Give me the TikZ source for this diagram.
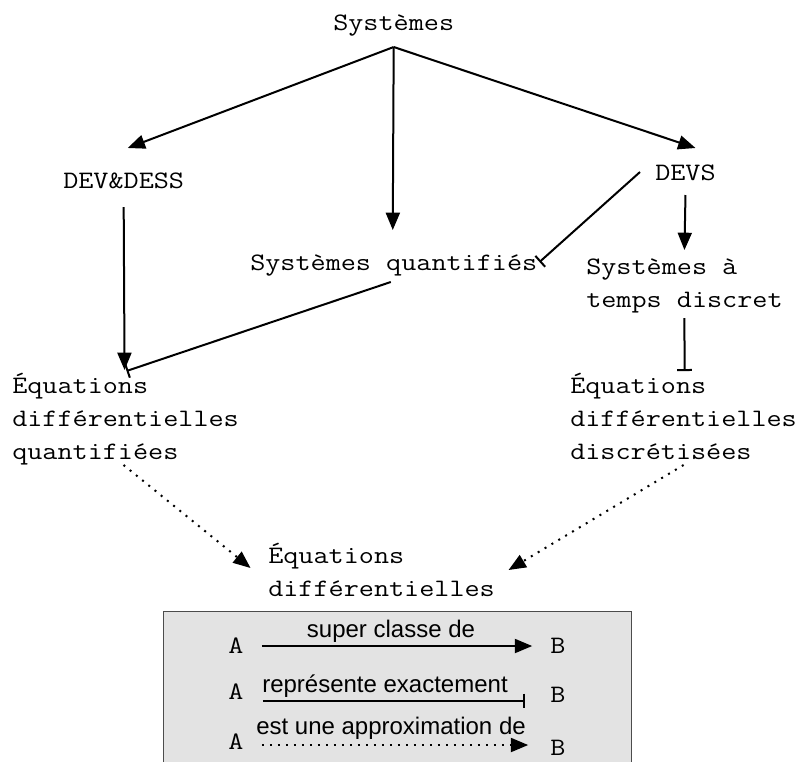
\documentclass[tikz,border=0pt]{standalone}
\usepackage{fontspec}
\newfontfamily\legfont{Liberation Sans}
\newfontfamily\lmmono{Latin Modern Mono}[FakeStretch=1.17]
\usetikzlibrary{arrows.meta,calc}
\newcommand{\monofnt}{\lmmono\fontsize{18.8}{24.4}\selectfont}
\begin{document}
\begin{tikzpicture}[x=0.75pt,y=-0.75pt,
  lbl/.style={inner sep=0pt, font=\monofnt, align=left, anchor=base west},
  conn/.style={line width=1.5pt},
  supc/.style={conn, -{Triangle[length=13pt,width=10.5pt]}},
  exact/.style={conn, -{Bar[width=11pt]}},
  approx/.style={conn, dash pattern=on 1.5pt off 4.5pt, -{Triangle[length=13pt,width=10.5pt]}},
  leg/.style={inner sep=0pt, font=\legfont\fontsize{18}{20}\selectfont},
  ab/.style={inner sep=0pt, font=\monofnt}]
\useasboundingbox (0,0) rectangle (798,761);

% nodes (base = baseline of last line)
\node[lbl] (sys) at (333,30) {Systèmes};
\node[lbl] (dd) at (63,188) {DEV\&DESS};
\node[lbl] (devs) at (655,180) {DEVS};
\node[lbl] (sq) at (250,270) {Systèmes quantifiés};
\node[lbl] (std) at (586,307) {Systèmes à\\temps discret};
\node[lbl] (edq) at (12,459) {Équations\\différentielles\\quantifiées};
\node[lbl] (edd) at (570,459) {Équations\\différentielles\\discrétisées};
\node[lbl] (ed) at (268,596) {Équations\\différentielles};

% connectors
\draw[supc] ($(sys.base)+(0,17)$) -- ($(dd.base)+(4,-40)$);
\draw[supc] ($(sys.base)+(0,17)$) -- ($(sq.base)+(-1,-40)$);
\draw[supc] ($(sys.base)+(0,17)$) -- ($(devs.base)+(10,-32)$);
\draw[supc] ($(dd.base)+(0,19)$) -- ($(edq.base)+(-1,-89)$);
\draw[exact] ($(sq.base)+(-3,12)$) -- ($(edq.base)+(1,-88)$);
\draw[exact] ($(devs.base west)+(-15,-8)$) -- ($(sq.base east)+(2,-8)$);
\draw[supc] ($(devs.base)+(0,15)$) -- ($(std.base)+(0,-57)$);
\draw[exact] ($(std.base)+(0,11)$) -- ($(edd.base)+(1,-88)$);
\draw[approx] ($(edq.base)+(-2,6)$) -- ($(ed.base)+(-131,-28)$);
\draw[approx] ($(edd.base)+(0,6)$) -- ($(ed.base)+(127,-26)$);

% legend
\draw[draw=black!70, line width=0.6pt, fill=black!11] (163,611) rectangle (631,770);
\node[ab] (la1) at (236,646) {A};
\node[ab] (lb1) at (558,646) {B};
\node[ab] (la2) at (236,692) {A};
\node[ab] (lb2) at (558,695) {B};
\node[ab] (la3) at (236,742) {A};
\node[ab] (lb3) at (558,748) {B};
\node[leg] (t1) at (391,631) {super classe de};
\node[leg] (t2) at (385,686) {représente exactement};
\node[leg] (t3) at (391,728) {est une approximation de};
\draw[supc] ($(la1.east)+(18,0)$) -- ($(lb1.west)+(-18,0)$);
\draw[exact] ($(la2.east)+(19,9)$) -- ($(lb2.west)+(-25,6)$);
\draw[approx] ($(la3.east)+(18,3)$) -- ($(lb3.west)+(-22,-3)$);
\end{tikzpicture}
\end{document}
